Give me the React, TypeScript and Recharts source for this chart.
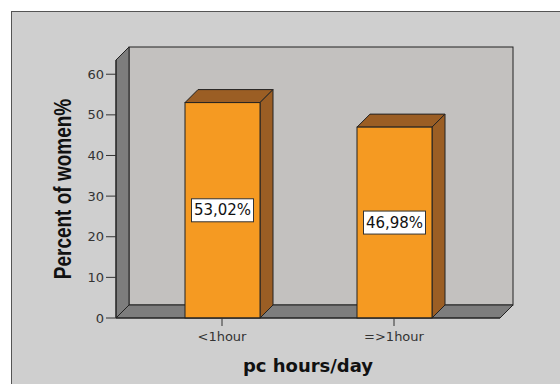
import { BarChart, Bar, XAxis, YAxis, LabelList, Customized } from 'recharts'

// pc hours per day, percent of women
const categories = ['<1hour', '=>1hour']
const percents = [53.02, 46.98]
const yTicks = [0, 10, 20, 30, 40, 50, 60]

const data = categories.map((hours, i) => ({ hours, pct: percents[i] }))

const W = 560
const H = 384
const Y_AXIS_W = 116
const X_AXIS_H = 66
const MARGIN = { top: 60, right: 60, bottom: 0, left: 0 }
const DEPTH = 13

const ORANGE = '#f59a22'
const BROWN = '#9b5e24'
const EDGE = '#222'

// back wall, left wall and floor of the 3D box
function Walls() {
  const x0 = Y_AXIS_W
  const x1 = W - MARGIN.right
  const y0 = MARGIN.top
  const y1 = H - X_AXIS_H
  const d = DEPTH
  return (
    <g>
      <rect x={x0 + d} y={y0 - d} width={x1 - x0} height={y1 - y0} fill="#c3c1bf" stroke={EDGE} />
      <polygon
        points={`${x0},${y0} ${x0 + d},${y0 - d} ${x0 + d},${y1 - d} ${x0},${y1}`}
        fill="#7d7d7d"
        stroke={EDGE}
      />
      <polygon
        points={`${x0},${y1} ${x0 + d},${y1 - d} ${x1 + d},${y1 - d} ${x1},${y1}`}
        fill="#7d7d7d"
        stroke={EDGE}
      />
    </g>
  )
}

function Box3D(props: any) {
  const { x, y, width, height } = props
  const d = DEPTH
  return (
    <g stroke={EDGE} strokeWidth={1}>
      <polygon points={`${x},${y} ${x + d},${y - d} ${x + width + d},${y - d} ${x + width},${y}`} fill={BROWN} />
      <polygon
        points={`${x + width},${y} ${x + width + d},${y - d} ${x + width + d},${y + height - d} ${x + width},${y + height}`}
        fill={BROWN}
      />
      <rect x={x} y={y} width={width} height={height} fill={ORANGE} />
    </g>
  )
}

function ValueTag(props: any) {
  const { x, y, width, height, value } = props
  const cx = x + width / 2
  const cy = y + height / 2
  const text = Number(value).toFixed(2).replace('.', ',') + '%'
  return (
    <g>
      <rect x={cx - 31} y={cy - 11.5} width={62} height={23} fill="#fff" stroke="#333" />
      <text
        x={cx}
        y={cy}
        textAnchor="middle"
        dominantBaseline="central"
        fontFamily="DejaVu Sans"
        fontSize={15}
        fill="#111"
      >
        {text}
      </text>
    </g>
  )
}

function XTitle(props: any) {
  const vb = props.viewBox
  return (
    <text
      x={vb.x + vb.width / 2}
      y={372}
      textAnchor="middle"
      fontFamily="DejaVu Sans"
      fontWeight="bold"
      fontSize={18}
      fill="#111"
    >
      pc hours/day
    </text>
  )
}

// original glyphs look stretched across the reading direction
function YTitle(props: any) {
  const vb = props.viewBox
  const cy = vb.y + vb.height / 2
  return (
    <text
      x={0}
      y={0}
      transform={`translate(63 ${cy}) rotate(-90) scale(1 1.25)`}
      textAnchor="middle"
      dominantBaseline="central"
      fontFamily="Liberation Sans"
      fontWeight="bold"
      fontSize={19}
      fill="#111"
    >
      Percent of women%
    </text>
  )
}

export default function App() {
  return (
    <div style={{ position: 'absolute', left: 0, top: 0, width: W, height: H, background: '#fff', overflow: 'hidden' }}>
      <div
        style={{
          position: 'absolute',
          left: 11,
          top: 11,
          width: W,
          height: H,
          background: '#cfcfcf',
          border: '1px solid #555',
        }}
      />
      <div style={{ position: 'absolute', left: 0, top: 0 }}>
        <BarChart width={W} height={H} data={data} margin={MARGIN}>
          <Customized component={<Walls />} />
          <XAxis
            dataKey="hours"
            height={X_AXIS_H}
            padding={{ left: 20, right: 20 }}
            axisLine={{ stroke: EDGE }}
            tickLine={{ stroke: '#333' }}
            tickSize={8}
            tickMargin={6}
            tick={{ fill: '#333', fontSize: 13, fontFamily: 'DejaVu Sans' }}
            label={{ content: XTitle }}
          />
          <YAxis
            width={Y_AXIS_W}
            domain={[0, 63.5]}
            ticks={yTicks}
            axisLine={{ stroke: EDGE }}
            tickLine={{ stroke: '#333' }}
            tickSize={10}
            tickMargin={2}
            tick={{ fill: '#333', fontSize: 13, fontFamily: 'DejaVu Sans' }}
            label={{ content: YTitle }}
          />
          <Bar dataKey="pct" barSize={75} shape={Box3D} isAnimationActive={false}>
            <LabelList dataKey="pct" content={ValueTag} />
          </Bar>
        </BarChart>
      </div>
    </div>
  )
}
